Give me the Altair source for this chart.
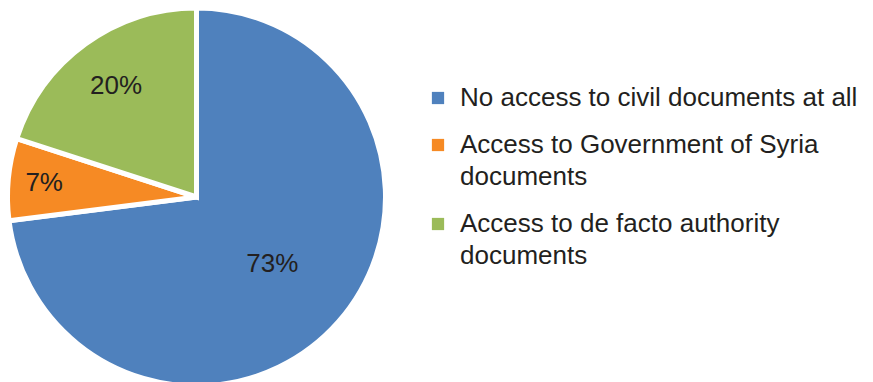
import altair as alt
import pandas as pd
import math

categories = ["No access to civil documents at all",
              "Access to Government of Syria documents",
              "Access to de facto authority documents"]
values = [73, 7, 20]
colors = ["#4F81BD", "#F68A24", "#9BBB59"]
label_radius = [101, 153, 137]

df = pd.DataFrame({"cat": categories, "val": values, "order": [0, 1, 2],
                   "lr": label_radius,
                   "label": [f"{v}%" for v in values]})

R = 189
CX, CY = 185.5, 185
theta_scale = alt.Scale(domain=[0, 100], range=[0, 2 * math.pi])

base = alt.Chart(df).transform_window(
    cum="sum(val)", sort=[alt.SortField("order")],
    frame=[None, 0]
).transform_calculate(
    start="datum.cum - datum.val",
    mid="datum.cum - datum.val / 2",
)

arcs = base.mark_arc(outerRadius=R, stroke="white", strokeWidth=5).encode(
    x=alt.value(CX), y=alt.value(CY),
    theta=alt.Theta("start:Q", scale=theta_scale, stack=None),
    theta2="cum:Q",
    color=alt.Color("cat:N", sort=categories,
                    scale=alt.Scale(domain=categories, range=colors),
                    legend=alt.Legend(
                        title=None, orient="none", legendX=414, legendY=73,
                        symbolType="square", symbolSize=150, symbolStrokeWidth=0,
                        labelFont="Liberation Sans", labelFontSize=26,
                        labelColor="#231F20", labelLimit=600,
                        labelExpr="split(datum.label == 'Access to Government of Syria documents' ? 'Access to Government of Syria|documents' : (datum.label == 'Access to de facto authority documents' ? 'Access to de facto authority|documents' : datum.label), '|')",
                        rowPadding=21, labelOffset=9,
                    )),
)

text = base.mark_text(font="Liberation Sans", fontSize=26, color="#231F20").encode(
    x=alt.value(CX), y=alt.value(CY),
    theta=alt.Theta("mid:Q", scale=theta_scale, stack=None),
    radius=alt.Radius("lr:Q", scale=None),
    text="label:N",
)

chart = (arcs + text).properties(
    width=860, height=370,
    autosize=alt.AutoSizeParams(type="none"),
    padding={"left": 11, "top": 12, "right": 0, "bottom": 0},
).configure(
    style={"guide-label": {"lineHeight": 32}},
    view={"stroke": None},
)

chart.save("out.html", embed_options={"renderer": "svg", "actions": False})
